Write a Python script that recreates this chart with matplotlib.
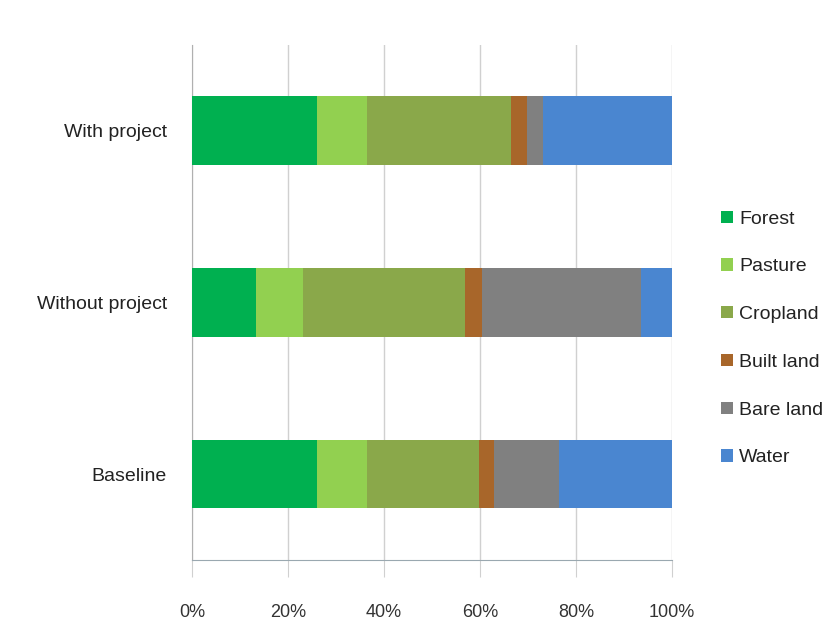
import matplotlib.pyplot as plt
import numpy as np

plt.rcParams['font.family'] = ['Liberation Sans Narrow', 'Liberation Sans', 'DejaVu Sans']

scenarios = ["Baseline", "Without project", "With project"]
land_uses = ["Forest", "Pasture", "Cropland", "Built land", "Bare land", "Water"]
forest = [26.0, 13.3, 26.0]
pasture = [10.5, 9.8, 10.5]
cropland = [23.3, 33.8, 30.0]
built_land = [3.1, 3.5, 3.3]
bare_land = [13.5, 33.1, 3.3]
water = [23.6, 6.5, 26.9]
colors = ["#00b050", "#92d050", "#8aa84a", "#a8662a", "#808080", "#4a86d0"]

series = [forest, pasture, cropland, built_land, bare_land, water]

fig = plt.figure(figsize=(8.35, 6.42), dpi=100)
ax = fig.add_axes([0.23, 0.128, 0.575, 0.802])

y = np.arange(len(scenarios))
left = np.zeros(len(scenarios))
for name, vals, c in zip(land_uses, series, colors):
    ax.barh(y, vals, left=left, height=0.4, color=c, label=name, zorder=3)
    left += np.array(vals)

ax.set_xlim(0, 100)
ax.set_ylim(-0.5, 2.5)
ax.set_xticks(np.arange(0, 101, 20))
ax.set_xticklabels([f"{v}%" for v in range(0, 101, 20)], fontsize=13, color="#333333")
ax.set_yticks(y)
ax.set_yticklabels(scenarios, fontsize=14, color="#222222")
ax.grid(axis="x", color="#d0d0d0", linewidth=1, zorder=0)
for s in ["top", "right"]:
    ax.spines[s].set_visible(False)
ax.spines["left"].set_color("#b0b0b0")
ax.spines["bottom"].set_color("#9aa8b0")
ax.tick_params(axis="x", length=12, color="#d0d0d0", pad=20)
ax.tick_params(axis="y", length=0, pad=18)

leg = ax.legend(loc="center left", bbox_to_anchor=(1.065, 0.43), frameon=False,
                fontsize=14, handlelength=0.6, handleheight=0.6,
                handletextpad=0.35, labelspacing=1.58)
for t in leg.get_texts():
    t.set_color("#222222")

fig.savefig("out.png", dpi=100, facecolor="white")
